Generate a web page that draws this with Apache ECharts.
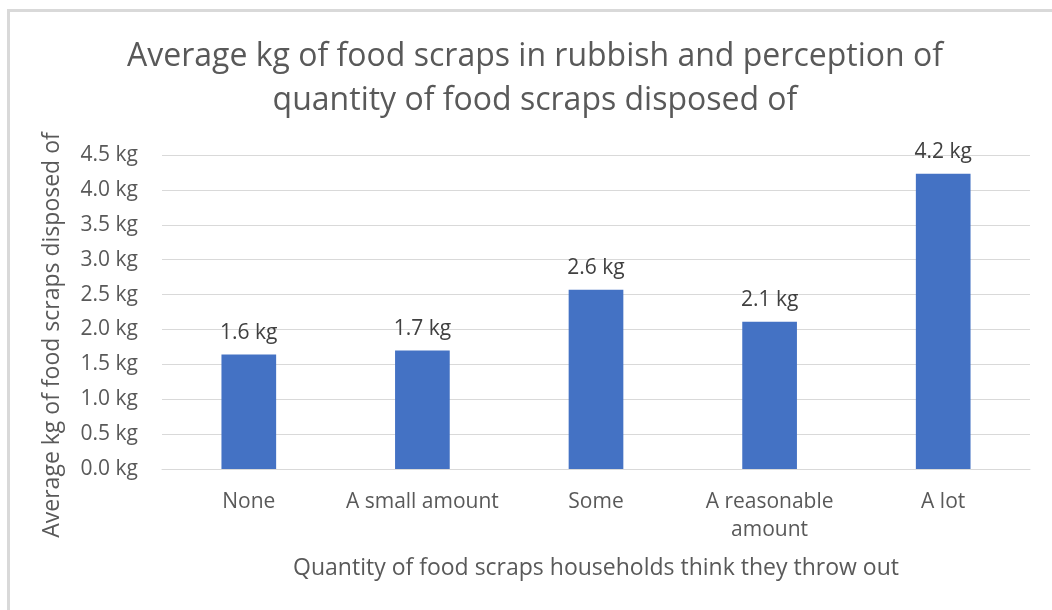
<!DOCTYPE html>
<html>
<head>
<meta charset="utf-8">
<script src="https://cdn.jsdelivr.net/npm/echarts@6/dist/echarts.min.js"></script>
<style>html,body{margin:0;padding:0;background:#fff}#c{width:1052px;height:610px}</style>
</head>
<body>
<div id="c"></div>
<script>
const titleText = 'Average kg of food scraps in rubbish and perception of\nquantity of food scraps disposed of';
const categories = ['None', 'A small amount', 'Some', 'A reasonable\namount', 'A lot'];
const values = [1.64, 1.70, 2.57, 2.11, 4.23];
const yTicks = [0, 0.5, 1.0, 1.5, 2.0, 2.5, 3.0, 3.5, 4.0, 4.5];
const xAxisName = 'Quantity of food scraps households think they throw out';
const yAxisName = 'Average kg of food scraps disposed of';

const FONT = 'Open Sans';
const chart = echarts.init(document.getElementById('c'));
chart.setOption({
  animation: false,
  backgroundColor: '#fff',
  graphic: [{
    type: 'rect', silent: true, z: -1,
    shape: {x: 8.5, y: 10.5, width: 1100, height: 700},
    style: {fill: 'none', stroke: '#d9d9d9', lineWidth: 3}
  }],
  title: {
    text: titleText,
    left: 530, top: 30, textAlign: 'center',
    textStyle: {fontFamily: FONT, fontWeight: 'normal', fontSize: 32, lineHeight: 44, color: '#595959'}
  },
  grid: {left: 162, right: 22, top: 155, bottom: 141, containLabel: false},
  xAxis: {
    type: 'category', data: categories,
    name: xAxisName, nameLocation: 'middle', nameGap: 88,
    nameTextStyle: {fontFamily: FONT, fontSize: 23, color: '#595959'},
    axisLine: {lineStyle: {color: '#d9d9d9', width: 1}},
    axisTick: {show: false},
    axisLabel: {fontFamily: FONT, fontSize: 21, color: '#595959', margin: 19, lineHeight: 28, interval: 0}
  },
  yAxis: {
    type: 'value', min: yTicks[0], max: yTicks[yTicks.length - 1], interval: 0.5,
    name: yAxisName, nameLocation: 'middle', nameGap: 98, nameRotate: 90,
    nameTextStyle: {fontFamily: FONT, fontSize: 23, color: '#595959', padding: [0, 46, 0, 0]},
    axisLine: {show: false}, axisTick: {show: false},
    splitLine: {lineStyle: {color: '#d9d9d9', width: 1}},
    axisLabel: {fontFamily: FONT, fontSize: 21, color: '#595959', margin: 24,
      formatter: v => v.toFixed(1) + ' kg'}
  },
  series: [{
    type: 'bar', data: values, barWidth: '31.5%',
    itemStyle: {color: '#4472C4'},
    label: {show: true, position: 'top', distance: 11, fontFamily: FONT, fontSize: 21, color: '#404040',
      formatter: p => p.value.toFixed(1) + ' kg'}
  }]
});
</script>
</body>
</html>
